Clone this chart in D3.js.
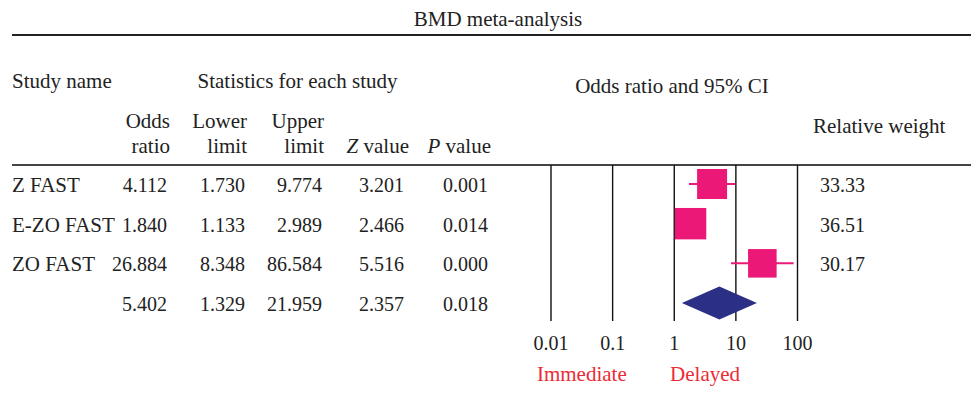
<!DOCTYPE html>
<html>
<head>
<meta charset="utf-8">
<script src="https://cdn.jsdelivr.net/npm/d3@7"></script>
<style>
  html, body { margin: 0; padding: 0; background: #fff; }
  svg { display: block; }
  text { font-family: "Liberation Serif", "Times New Roman", serif; font-size: 21px; fill: #222; }
  text.num { font-size: 20px; }
</style>
</head>
<body>
<svg id="chart" width="971" height="409"></svg>
<script>
const studies = ["Z FAST", "E-ZO FAST", "ZO FAST", ""];
const oddsRatio = [4.112, 1.840, 26.884, 5.402];
const lowerLimit = [1.730, 1.133, 8.348, 1.329];
const upperLimit = [9.774, 2.989, 86.584, 21.959];
const zValue = [3.201, 2.466, 5.516, 2.357];
const pValue = [0.001, 0.014, 0.000, 0.018];
const relWeight = [33.33, 36.51, 30.17];
const tickValues = [0.01, 0.1, 1, 10, 100];
const tickLabels = ["0.01", "0.1", "1", "10", "100"];
const isSummary = [false, false, false, true];

const svg = d3.select("#chart");
const pink = "#EC1878", navy = "#2B2F86", red = "#EC2A35";

const x = d3.scaleLog().domain([0.01, 100]).range([551, 797.5]);
const y = d3.scalePoint().domain(d3.range(studies.length)).range([184, 303]);
const sizeScale = d3.scaleSqrt().domain([0, 33.33]).range([0, 30]);

// title and rules
svg.append("text").attr("x", 498).attr("y", 26).attr("text-anchor", "middle").text("BMD meta-analysis");
svg.append("line").attr("x1", 12).attr("x2", 971).attr("y1", 35).attr("y2", 35).attr("stroke", "#222").attr("stroke-width", 2.2);
svg.append("line").attr("x1", 12).attr("x2", 971).attr("y1", 165).attr("y2", 165).attr("stroke", "#444").attr("stroke-width", 2.2);

// headers
svg.append("text").attr("x", 12).attr("y", 88).text("Study name");
svg.append("text").attr("x", 297.5).attr("y", 88).attr("text-anchor", "middle").text("Statistics for each study");
svg.append("text").attr("x", 672).attr("y", 93).attr("text-anchor", "middle").text("Odds ratio and 95% CI");
svg.append("text").attr("x", 813).attr("y", 133).text("Relative weight");

const colRight = [167, 245, 322, 404, 488];
const headTop = ["Odds", "Lower", "Upper", "", ""];
const headBot = ["ratio", "limit", "limit", "Z value", "P value"];
const headRight = [170, 247, 324, 409, 491];
headTop.forEach((t, i) => {
  if (t) svg.append("text").attr("x", headRight[i]).attr("y", 128).attr("text-anchor", "end").text(t);
});
headBot.forEach((t, i) => {
  const tx = svg.append("text").attr("x", headRight[i]).attr("y", 153).attr("text-anchor", "end");
  if (t.endsWith(" value")) {
    tx.append("tspan").attr("font-style", "italic").text(t[0]);
    tx.append("tspan").text(" value");
  } else tx.text(t);
});

// table rows
const cols = [oddsRatio, lowerLimit, upperLimit, zValue, pValue];
studies.forEach((s, i) => {
  const by = y(i) + 8;
  svg.append("text").attr("x", 12).attr("y", by).text(s);
  cols.forEach((arr, c) => {
    svg.append("text").attr("class", "num").attr("x", colRight[c]).attr("y", by).attr("text-anchor", "end").text(arr[i].toFixed(3));
  });
  if (i < relWeight.length) {
    svg.append("text").attr("class", "num").attr("x", 820).attr("y", by).text(relWeight[i].toFixed(2));
  }
});

// vertical grid lines
svg.append("g").selectAll("line").data(tickValues).join("line")
  .attr("x1", d => x(d)).attr("x2", d => x(d))
  .attr("y1", 165).attr("y2", 321)
  .attr("stroke", "#111").attr("stroke-width", 1.4);

// axis labels
svg.append("g").selectAll("text").data(tickValues).join("text")
  .attr("class", "num")
  .attr("x", d => x(d)).attr("y", 350).attr("text-anchor", "middle")
  .text((d, i) => tickLabels[i]);

svg.append("text").attr("x", x(Math.pow(10, -1.5))).attr("y", 381).attr("text-anchor", "middle").style("fill", red).text("Immediate");
svg.append("text").attr("x", x(Math.pow(10, 0.5))).attr("y", 381).attr("text-anchor", "middle").style("fill", red).text("Delayed");

// study marks
const marks = svg.append("g");
studies.forEach((s, i) => {
  const cy = y(i);
  if (!isSummary[i]) {
    marks.append("line").attr("x1", x(lowerLimit[i])).attr("x2", x(upperLimit[i]))
      .attr("y1", cy).attr("y2", cy).attr("stroke", pink).attr("stroke-width", 2);
    const side = sizeScale(relWeight[i]);
    marks.append("rect").attr("x", x(oddsRatio[i]) - side / 2).attr("y", cy - side / 2)
      .attr("width", side).attr("height", side).attr("fill", pink);
  } else {
    const h = 16.5;
    const pts = [[x(lowerLimit[i]), cy], [x(oddsRatio[i]), cy - h], [x(upperLimit[i]), cy], [x(oddsRatio[i]), cy + h]];
    marks.append("path").attr("d", d3.line()(pts) + "Z").attr("fill", navy);
  }
});
</script>
</body>
</html>
